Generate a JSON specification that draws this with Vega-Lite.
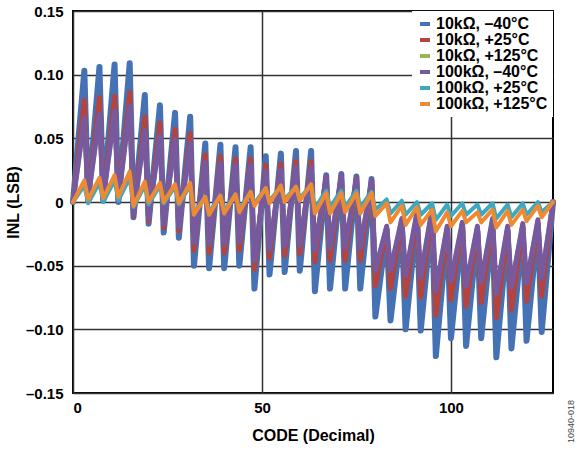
{
  "$schema": "https://vega.github.io/schema/vega-lite/v6.json",
  "width": 480,
  "height": 382,
  "autosize": {"type": "none"},
  "padding": {"left": 73, "top": 11, "right": 28, "bottom": 57},
  "background": "white",
  "title": {"text": "10940-018", "orient": "right", "anchor": "end", "frame": "bounds", "angle": -90, "align": "left", "fontSize": 9, "fontWeight": "normal", "color": "#444", "font": "Liberation Sans", "offset": 2},
  "datasets": {
    "b": [{"code":0,"inl":0},{"code":3,"inl":0.103},{"code":4,"inl":0.001},{"code":7,"inl":0.106},{"code":8,"inl":0.001},{"code":11,"inl":0.108},{"code":12,"inl":0},{"code":15,"inl":0.109},{"code":16,"inl":-0.012},{"code":19,"inl":0.084},{"code":20,"inl":-0.017},{"code":23,"inl":0.076},{"code":24,"inl":-0.024},{"code":27,"inl":0.070},{"code":28,"inl":-0.028},{"code":31,"inl":0.067},{"code":32,"inl":-0.050},{"code":35,"inl":0.046},{"code":36,"inl":-0.052},{"code":39,"inl":0.045},{"code":40,"inl":-0.052},{"code":43,"inl":0.043},{"code":44,"inl":-0.050},{"code":47,"inl":0.043},{"code":48,"inl":-0.068},{"code":51,"inl":0.036},{"code":52,"inl":-0.057},{"code":55,"inl":0.038},{"code":56,"inl":-0.055},{"code":59,"inl":0.040},{"code":60,"inl":-0.054},{"code":63,"inl":0.040},{"code":64,"inl":-0.070},{"code":67,"inl":0.021},{"code":68,"inl":-0.068},{"code":71,"inl":0.022},{"code":72,"inl":-0.068},{"code":75,"inl":0.020},{"code":76,"inl":-0.068},{"code":79,"inl":0.018},{"code":80,"inl":-0.090},{"code":83,"inl":-0.022},{"code":84,"inl":-0.093},{"code":87,"inl":-0.017},{"code":88,"inl":-0.100},{"code":91,"inl":-0.012},{"code":92,"inl":-0.101},{"code":95,"inl":-0.009},{"code":96,"inl":-0.121},{"code":99,"inl":-0.022},{"code":100,"inl":-0.107},{"code":103,"inl":-0.019},{"code":104,"inl":-0.113},{"code":107,"inl":-0.023},{"code":108,"inl":-0.107},{"code":111,"inl":-0.017},{"code":112,"inl":-0.122},{"code":115,"inl":-0.023},{"code":116,"inl":-0.115},{"code":119,"inl":-0.021},{"code":120,"inl":-0.109},{"code":123,"inl":-0.018},{"code":124,"inl":-0.102},{"code":127,"inl":0}],
    "r": [{"code":0,"inl":0},{"code":3,"inl":0.080},{"code":4,"inl":0.002},{"code":7,"inl":0.082},{"code":8,"inl":0.002},{"code":11,"inl":0.083},{"code":12,"inl":0.001},{"code":15,"inl":0.086},{"code":16,"inl":-0.011},{"code":19,"inl":0.067},{"code":20,"inl":-0.015},{"code":23,"inl":0.062},{"code":24,"inl":-0.020},{"code":27,"inl":0.057},{"code":28,"inl":-0.023},{"code":31,"inl":0.054},{"code":32,"inl":-0.038},{"code":35,"inl":0.037},{"code":36,"inl":-0.040},{"code":39,"inl":0.036},{"code":40,"inl":-0.040},{"code":43,"inl":0.034},{"code":44,"inl":-0.038},{"code":47,"inl":0.034},{"code":48,"inl":-0.053},{"code":51,"inl":0.029},{"code":52,"inl":-0.044},{"code":55,"inl":0.030},{"code":56,"inl":-0.042},{"code":59,"inl":0.032},{"code":60,"inl":-0.041},{"code":63,"inl":0.032},{"code":64,"inl":-0.047},{"code":67,"inl":0.020},{"code":68,"inl":-0.046},{"code":71,"inl":0.021},{"code":72,"inl":-0.046},{"code":75,"inl":0.019},{"code":76,"inl":-0.046},{"code":79,"inl":0.017},{"code":80,"inl":-0.066},{"code":83,"inl":-0.021},{"code":84,"inl":-0.068},{"code":87,"inl":-0.015},{"code":88,"inl":-0.074},{"code":91,"inl":-0.010},{"code":92,"inl":-0.075},{"code":95,"inl":-0.007},{"code":96,"inl":-0.089},{"code":99,"inl":-0.021},{"code":100,"inl":-0.077},{"code":103,"inl":-0.017},{"code":104,"inl":-0.082},{"code":107,"inl":-0.021},{"code":108,"inl":-0.079},{"code":111,"inl":-0.015},{"code":112,"inl":-0.091},{"code":115,"inl":-0.021},{"code":116,"inl":-0.085},{"code":119,"inl":-0.019},{"code":120,"inl":-0.078},{"code":123,"inl":-0.016},{"code":124,"inl":-0.074},{"code":127,"inl":0}],
    "g": [{"code":0,"inl":0},{"code":3,"inl":0.064},{"code":4,"inl":0.003},{"code":7,"inl":0.067},{"code":8,"inl":0.003},{"code":11,"inl":0.069},{"code":12,"inl":0.002},{"code":15,"inl":0.073},{"code":16,"inl":-0.009},{"code":19,"inl":0.054},{"code":20,"inl":-0.012},{"code":23,"inl":0.050},{"code":24,"inl":-0.016},{"code":27,"inl":0.047},{"code":28,"inl":-0.019},{"code":31,"inl":0.044},{"code":32,"inl":-0.030},{"code":35,"inl":0.029},{"code":36,"inl":-0.031},{"code":39,"inl":0.028},{"code":40,"inl":-0.031},{"code":43,"inl":0.027},{"code":44,"inl":-0.029},{"code":47,"inl":0.027},{"code":48,"inl":-0.044},{"code":51,"inl":0.022},{"code":52,"inl":-0.035},{"code":55,"inl":0.023},{"code":56,"inl":-0.033},{"code":59,"inl":0.025},{"code":60,"inl":-0.032},{"code":63,"inl":0.025},{"code":64,"inl":-0.036},{"code":67,"inl":0.018},{"code":68,"inl":-0.034},{"code":71,"inl":0.019},{"code":72,"inl":-0.034},{"code":75,"inl":0.017},{"code":76,"inl":-0.034},{"code":79,"inl":0.015},{"code":80,"inl":-0.052},{"code":83,"inl":-0.020},{"code":84,"inl":-0.052},{"code":87,"inl":-0.014},{"code":88,"inl":-0.056},{"code":91,"inl":-0.009},{"code":92,"inl":-0.057},{"code":95,"inl":-0.006},{"code":96,"inl":-0.068},{"code":99,"inl":-0.020},{"code":100,"inl":-0.060},{"code":103,"inl":-0.017},{"code":104,"inl":-0.064},{"code":107,"inl":-0.020},{"code":108,"inl":-0.061},{"code":111,"inl":-0.014},{"code":112,"inl":-0.070},{"code":115,"inl":-0.020},{"code":116,"inl":-0.065},{"code":119,"inl":-0.018},{"code":120,"inl":-0.062},{"code":123,"inl":-0.015},{"code":124,"inl":-0.058},{"code":127,"inl":0}],
    "p": [{"code":0,"inl":0},{"code":3,"inl":0.066},{"code":4,"inl":0.002},{"code":7,"inl":0.069},{"code":8,"inl":0.002},{"code":11,"inl":0.071},{"code":12,"inl":0.001},{"code":15,"inl":0.075},{"code":16,"inl":-0.010},{"code":19,"inl":0.056},{"code":20,"inl":-0.013},{"code":23,"inl":0.052},{"code":24,"inl":-0.017},{"code":27,"inl":0.049},{"code":28,"inl":-0.020},{"code":31,"inl":0.046},{"code":32,"inl":-0.032},{"code":35,"inl":0.031},{"code":36,"inl":-0.033},{"code":39,"inl":0.030},{"code":40,"inl":-0.033},{"code":43,"inl":0.029},{"code":44,"inl":-0.031},{"code":47,"inl":0.029},{"code":48,"inl":-0.046},{"code":51,"inl":0.024},{"code":52,"inl":-0.037},{"code":55,"inl":0.025},{"code":56,"inl":-0.035},{"code":59,"inl":0.027},{"code":60,"inl":-0.034},{"code":63,"inl":0.027},{"code":64,"inl":-0.038},{"code":67,"inl":0.020},{"code":68,"inl":-0.036},{"code":71,"inl":0.021},{"code":72,"inl":-0.036},{"code":75,"inl":0.019},{"code":76,"inl":-0.036},{"code":79,"inl":0.017},{"code":80,"inl":-0.054},{"code":83,"inl":-0.019},{"code":84,"inl":-0.054},{"code":87,"inl":-0.013},{"code":88,"inl":-0.058},{"code":91,"inl":-0.008},{"code":92,"inl":-0.059},{"code":95,"inl":-0.005},{"code":96,"inl":-0.070},{"code":99,"inl":-0.019},{"code":100,"inl":-0.062},{"code":103,"inl":-0.016},{"code":104,"inl":-0.066},{"code":107,"inl":-0.019},{"code":108,"inl":-0.063},{"code":111,"inl":-0.013},{"code":112,"inl":-0.072},{"code":115,"inl":-0.019},{"code":116,"inl":-0.067},{"code":119,"inl":-0.017},{"code":120,"inl":-0.064},{"code":123,"inl":-0.014},{"code":124,"inl":-0.060},{"code":127,"inl":0}],
    "t": [{"code":0,"inl":0},{"code":3,"inl":0.013},{"code":4,"inl":-0.001},{"code":7,"inl":0.015},{"code":8,"inl":0.000},{"code":11,"inl":0.017},{"code":12,"inl":0.001},{"code":15,"inl":0.019},{"code":16,"inl":-0.004},{"code":19,"inl":0.013},{"code":20,"inl":-0.002},{"code":23,"inl":0.013},{"code":24,"inl":-0.001},{"code":27,"inl":0.012},{"code":28,"inl":-0.002},{"code":31,"inl":0.013},{"code":32,"inl":-0.009},{"code":35,"inl":0.004},{"code":36,"inl":-0.008},{"code":39,"inl":0.005},{"code":40,"inl":-0.007},{"code":43,"inl":0.006},{"code":44,"inl":-0.006},{"code":47,"inl":0.008},{"code":48,"inl":-0.001},{"code":51,"inl":0.011},{"code":52,"inl":0.001},{"code":55,"inl":0.012},{"code":56,"inl":0.002},{"code":59,"inl":0.012},{"code":60,"inl":0.003},{"code":63,"inl":0.013},{"code":64,"inl":-0.005},{"code":67,"inl":0.009},{"code":68,"inl":-0.004},{"code":71,"inl":0.009},{"code":72,"inl":-0.004},{"code":75,"inl":0.009},{"code":76,"inl":-0.004},{"code":79,"inl":0.008},{"code":80,"inl":-0.006},{"code":83,"inl":0.002},{"code":84,"inl":-0.009},{"code":87,"inl":0.001},{"code":88,"inl":-0.010},{"code":91,"inl":0.000},{"code":92,"inl":-0.010},{"code":95,"inl":-0.001},{"code":96,"inl":-0.014},{"code":99,"inl":-0.002},{"code":100,"inl":-0.011},{"code":103,"inl":-0.001},{"code":104,"inl":-0.010},{"code":107,"inl":-0.002},{"code":108,"inl":-0.010},{"code":111,"inl":-0.001},{"code":112,"inl":-0.013},{"code":115,"inl":-0.002},{"code":116,"inl":-0.012},{"code":119,"inl":-0.001},{"code":120,"inl":-0.010},{"code":123,"inl":0.000},{"code":124,"inl":-0.008},{"code":127,"inl":0}],
    "o": [{"code":0,"inl":0},{"code":3,"inl":0.017},{"code":4,"inl":0.002},{"code":7,"inl":0.019},{"code":8,"inl":0.003},{"code":11,"inl":0.021},{"code":12,"inl":0.004},{"code":15,"inl":0.024},{"code":16,"inl":-0.003},{"code":19,"inl":0.016},{"code":20,"inl":0.000},{"code":23,"inl":0.015},{"code":24,"inl":0.000},{"code":27,"inl":0.014},{"code":28,"inl":-0.001},{"code":31,"inl":0.015},{"code":32,"inl":-0.010},{"code":35,"inl":0.004},{"code":36,"inl":-0.010},{"code":39,"inl":0.005},{"code":40,"inl":-0.009},{"code":43,"inl":0.006},{"code":44,"inl":-0.008},{"code":47,"inl":0.008},{"code":48,"inl":-0.003},{"code":51,"inl":0.011},{"code":52,"inl":-0.001},{"code":55,"inl":0.013},{"code":56,"inl":0.000},{"code":59,"inl":0.012},{"code":60,"inl":0.001},{"code":63,"inl":0.014},{"code":64,"inl":-0.009},{"code":67,"inl":0.007},{"code":68,"inl":-0.009},{"code":71,"inl":0.007},{"code":72,"inl":-0.008},{"code":75,"inl":0.007},{"code":76,"inl":-0.009},{"code":79,"inl":0.007},{"code":80,"inl":-0.011},{"code":83,"inl":-0.001},{"code":84,"inl":-0.016},{"code":87,"inl":-0.003},{"code":88,"inl":-0.018},{"code":91,"inl":-0.004},{"code":92,"inl":-0.018},{"code":95,"inl":-0.006},{"code":96,"inl":-0.023},{"code":99,"inl":-0.008},{"code":100,"inl":-0.019},{"code":103,"inl":-0.007},{"code":104,"inl":-0.016},{"code":107,"inl":-0.008},{"code":108,"inl":-0.016},{"code":111,"inl":-0.006},{"code":112,"inl":-0.020},{"code":115,"inl":-0.007},{"code":116,"inl":-0.018},{"code":119,"inl":-0.006},{"code":120,"inl":-0.015},{"code":123,"inl":-0.003},{"code":124,"inl":-0.012},{"code":127,"inl":0}]
  },
  "encoding": {
    "x": {"field": "code", "type": "quantitative", "scale": {"domain": [0, 127], "nice": false, "zero": false},
      "axis": {"values": [0, 50, 100], "title": "CODE (Decimal)", "labelPadding": 7, "titlePadding": 12}},
    "y": {"field": "inl", "type": "quantitative", "scale": {"domain": [-0.15, 0.15], "nice": false},
      "axis": {"values": [-0.15, -0.1, -0.05, 0, 0.05, 0.1, 0.15], "title": "INL (LSB)", "labelPadding": 10, "titlePadding": 4,
        "labelExpr": "datum.value == 0 ? '0' : (datum.value < 0 ? '–' + format(-datum.value, '.2f') : format(datum.value, '.2f'))"}}
  },
  "layer": [
    {"data": {"name": "b"}, "mark": {"type": "line", "strokeWidth": 6, "strokeCap": "round", "strokeJoin": "round"},
     "encoding": {"color": {"datum": "10kΩ, –40°C", "type": "nominal", "scale": {"domain": ["10kΩ, –40°C", "10kΩ, +25°C", "10kΩ, +125°C", "100kΩ, –40°C", "100kΩ, +25°C", "100kΩ, +125°C"], "range": ["#4472B4", "#B5443F", "#95B853", "#76599E", "#3EA8C0", "#EE8A32"]}}}},
    {"data": {"name": "r"}, "mark": {"type": "line", "strokeWidth": 5, "strokeCap": "round", "strokeJoin": "round"},
     "encoding": {"color": {"datum": "10kΩ, +25°C", "type": "nominal"}}},
    {"data": {"name": "g"}, "mark": {"type": "line", "strokeWidth": 4.5, "strokeCap": "round", "strokeJoin": "round"},
     "encoding": {"color": {"datum": "10kΩ, +125°C", "type": "nominal"}}},
    {"data": {"name": "p"}, "mark": {"type": "line", "strokeWidth": 5, "strokeCap": "round", "strokeJoin": "round"},
     "encoding": {"color": {"datum": "100kΩ, –40°C", "type": "nominal"}}},
    {"data": {"name": "t"}, "mark": {"type": "line", "strokeWidth": 4, "strokeCap": "round", "strokeJoin": "round"},
     "encoding": {"color": {"datum": "100kΩ, +25°C", "type": "nominal"}}},
    {"data": {"name": "o"}, "mark": {"type": "line", "strokeWidth": 4, "strokeCap": "round", "strokeJoin": "round"},
     "encoding": {"color": {"datum": "100kΩ, +125°C", "type": "nominal"}}}
  ],
  "config": {
    "font": "Liberation Sans",
    "view": {"stroke": "black", "strokeWidth": 2},
    "axis": {"grid": true, "gridColor": "#333333", "gridWidth": 1.5, "gridOpacity": 1, "ticks": false, "domain": false,
      "labelFont": "Liberation Sans", "labelFontSize": 15, "labelFontWeight": "bold", "labelColor": "black",
      "titleFont": "Liberation Sans", "titleFontSize": 16, "titleFontWeight": "bold", "titleColor": "black"},
    "legend": {"orient": "top-right", "offset": 0, "padding": 5, "fillColor": "white", "title": null,
      "symbolType": "stroke", "symbolStrokeWidth": 4, "symbolSize": 100, "labelOffset": 3, "rowPadding": 0,
      "labelFont": "Liberation Sans", "labelFontSize": 16, "labelFontWeight": "bold", "labelColor": "black", "labelLimit": 300}
  }
}
